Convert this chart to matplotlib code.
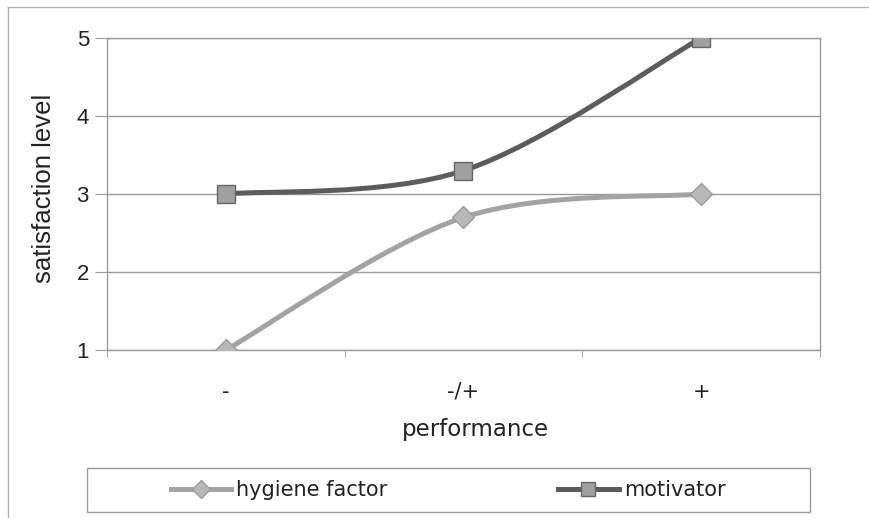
import matplotlib.pyplot as plt
import numpy as np
from matplotlib.path import Path
from matplotlib.patches import PathPatch, Rectangle
from matplotlib.lines import Line2D

categories = ['-', '-/+', '+']
hygiene = [1.0, 2.7, 3.0]
motivator = [3.0, 3.3, 5.0]


def smooth_path(xs, ys):
    # excel style smoothed line: cubic bezier through the points
    pts = np.column_stack([xs, ys]).astype(float)
    padded = np.vstack([pts[0], pts, pts[-1]])
    verts = [pts[0]]
    codes = [Path.MOVETO]
    for i in range(len(pts) - 1):
        c1 = pts[i] + (padded[i + 2] - padded[i]) / 6.0
        c2 = pts[i + 1] - (padded[i + 3] - padded[i + 1]) / 6.0
        verts += [c1, c2, pts[i + 1]]
        codes += [Path.CURVE4] * 3
    return Path(verts, codes)


fig = plt.figure(figsize=(8.7, 5.18), dpi=100)
ax = fig.add_axes([107 / 870, 1 - 350 / 518, (820 - 107) / 870, (350 - 38) / 518])

grey = '#9a9a9a'
x = np.arange(len(categories))

ax.add_patch(PathPatch(smooth_path(x, hygiene), fill=False, edgecolor='#a3a3a3', lw=3.6, capstyle='round', zorder=3))
ax.add_patch(PathPatch(smooth_path(x, motivator), fill=False, edgecolor='#5c5c5c', lw=3.6, capstyle='round', zorder=3))
ax.plot(x, hygiene, linestyle='none', marker='D', ms=11, mfc='#b8b8b8', mec='#9c9c9c', mew=1, zorder=4)
ax.plot(x, motivator, linestyle='none', marker='s', ms=13, mfc='#a0a0a0', mec='#666666', mew=1, zorder=4)

ax.set_xlim(-0.5, 2.5)
ax.set_ylim(1, 5)
ax.set_yticks([1, 2, 3, 4, 5])
ax.set_yticklabels(['1', '2', '3', '4', '5'], family='Liberation Sans', fontsize=16, color='#222222')
ax.set_xticks(x)
ax.set_xticklabels(categories, fontsize=15, color='#222222')
ax.set_xticks([-0.5, 0.5, 1.5, 2.5], minor=True)
ax.tick_params(axis='x', which='major', length=0, pad=23)
ax.tick_params(axis='x', which='minor', length=5, color=grey, direction='out')
ax.tick_params(axis='y', length=9, color=grey, direction='out', pad=4)
ax.grid(axis='y', color=grey, lw=1)
ax.set_axisbelow(True)
for s in ax.spines.values():
    s.set_color(grey)
    s.set_linewidth(1)

ax.set_ylabel('satisfaction level', family='Liberation Sans', fontsize=18.5, color='#222222')
ax.yaxis.set_label_coords((56 - 107) / 713, (350 - 188) / 312)
ax.set_xlabel('performance', fontsize=16.5, color='#222222')
ax.xaxis.set_label_coords((475 - 107) / 713, -(418 - 350) / 312)

# outer chart border (clipped at right and bottom)
fig.add_artist(Line2D([8 / 870, 1], [1 - 7 / 518, 1 - 7 / 518], color='#b0b0b0', lw=1))
fig.add_artist(Line2D([8 / 870, 8 / 870], [0, 1 - 7 / 518], color='#b0b0b0', lw=1))

# legend box
fig.add_artist(Rectangle((87 / 870, 1 - 512 / 518), (810 - 87) / 870, 44 / 518,
                         transform=fig.transFigure, fill=False, edgecolor=grey, lw=1))
handles = [
    Line2D([], [], color='#a3a3a3', lw=3.6, marker='D', ms=9, mfc='#b8b8b8', mec='#9c9c9c'),
    Line2D([], [], color='#5c5c5c', lw=3.6, marker='s', ms=10, mfc='#a0a0a0', mec='#666666'),
]
fig.legend(handles, ['hygiene factor', 'motivator'], loc='center',
           bbox_to_anchor=(448 / 870, 1 - 490 / 518), ncol=2, frameon=False,
           fontsize=15, handlelength=2.9, handletextpad=0.25, columnspacing=8.2,
           labelcolor='#222222')

fig.savefig('out.png', dpi=100)
